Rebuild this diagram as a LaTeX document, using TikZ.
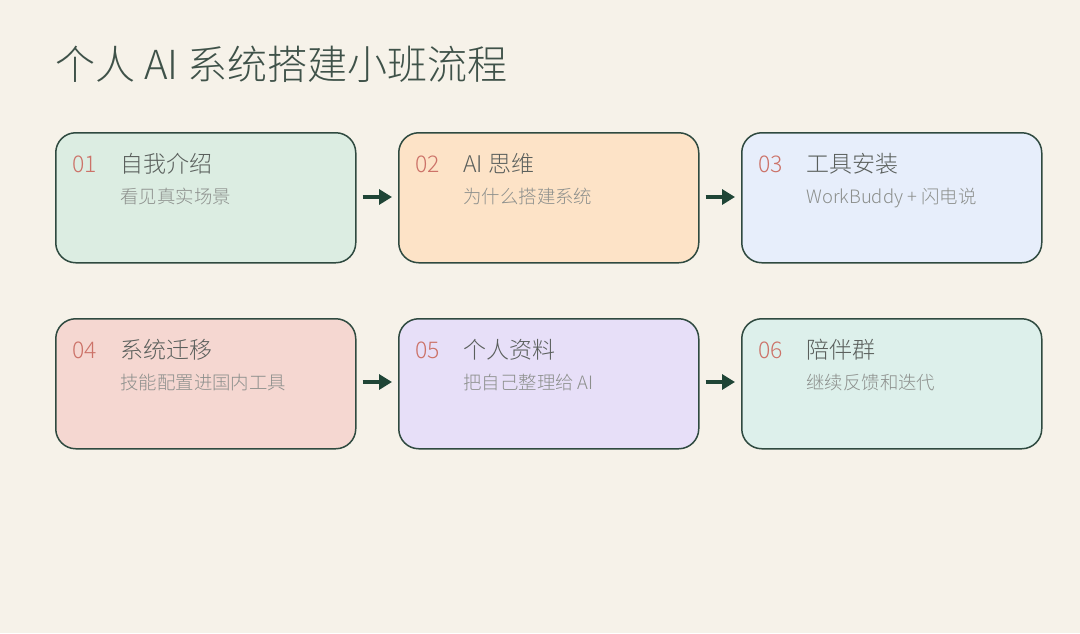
\documentclass[tikz,border=0pt]{standalone}
\usepackage{fontspec}
\setmainfont{Noto Sans CJK SC}[UprightFont=* Light]
\usetikzlibrary{arrows.meta}
\definecolor{bg}{HTML}{F6F2E9}
\definecolor{edge}{HTML}{2F4A40}
\definecolor{arrowc}{HTML}{1F4536}
\definecolor{titlec}{HTML}{3F5249}
\definecolor{numc}{HTML}{CC7268}
\definecolor{headc}{HTML}{5A5F5C}
\definecolor{subc}{HTML}{8C8F8C}
\definecolor{f1}{HTML}{DCEDE2}
\definecolor{f2}{HTML}{FDE3C7}
\definecolor{f3}{HTML}{E7EEFB}
\definecolor{f4}{HTML}{F5D7D1}
\definecolor{f5}{HTML}{E7DFF8}
\definecolor{f6}{HTML}{DDF0EB}
\tikzset{
  card/.style={draw=edge, line width=0.75pt, rounded corners=10pt, minimum width=150pt, minimum height=65pt, inner sep=0pt, anchor=north west},
  num/.style={anchor=base west, inner sep=0pt, text=numc, font=\fontsize{11.5pt}{12pt}\selectfont},
  head/.style={anchor=base west, inner sep=0pt, text=headc, font=\fontsize{11.5pt}{12pt}\selectfont},
  sub/.style={anchor=base west, inner sep=0pt, text=subc, font=\fontsize{9.2pt}{10pt}\selectfont},
  flow/.style={draw=arrowc, line width=1.6pt, -{Triangle[length=6.5pt,width=7.5pt]}, shorten <=3pt, shorten >=3pt}
}
\begin{document}
\begin{tikzpicture}[x=0.5pt,y=-0.5pt]
\fill[bg] (0,0) rectangle (1080,633);
\useasboundingbox (0,0) rectangle (1080,633);
\node[anchor=base west, inner sep=0pt, text=titlec, font=\fontsize{20pt}{22pt}\selectfont] (title) at (55,79) {个人 AI 系统搭建小班流程};
% row 1
\node[card, fill=f1] (b1) at (55,132) {};
\node[card, fill=f2] (b2) at (398,132) {};
\node[card, fill=f3] (b3) at (741,132) {};
% row 2
\node[card, fill=f4] (b4) at (55,318) {};
\node[card, fill=f5] (b5) at (398,318) {};
\node[card, fill=f6] (b6) at (741,318) {};
% texts
\foreach \b/\n/\h/\s in {b1/01/自我介绍/看见真实场景, b2/02/AI 思维/为什么搭建系统, b3/03/工具安装/WorkBuddy + 闪电说, b4/04/系统迁移/技能配置进国内工具, b5/05/个人资料/把自己整理给 AI, b6/06/陪伴群/继续反馈和迭代}{
  \node[num] (\b-n) at ([xshift=8.5pt,yshift=-20pt]\b.north west) {\n};
  \node[head] (\b-h) at ([xshift=32.5pt,yshift=-20pt]\b.north west) {\h};
  \node[sub] (\b-s) at ([xshift=32.5pt,yshift=-35.5pt]\b.north west) {\s};
}
\draw[flow] (b1.east |- 0,197) -- (b2.west |- 0,197);
\draw[flow] (b2.east |- 0,197) -- (b3.west |- 0,197);
\draw[flow] (b4.east |- 0,382) -- (b5.west |- 0,382);
\draw[flow] (b5.east |- 0,382) -- (b6.west |- 0,382);
\end{tikzpicture}
\end{document}
